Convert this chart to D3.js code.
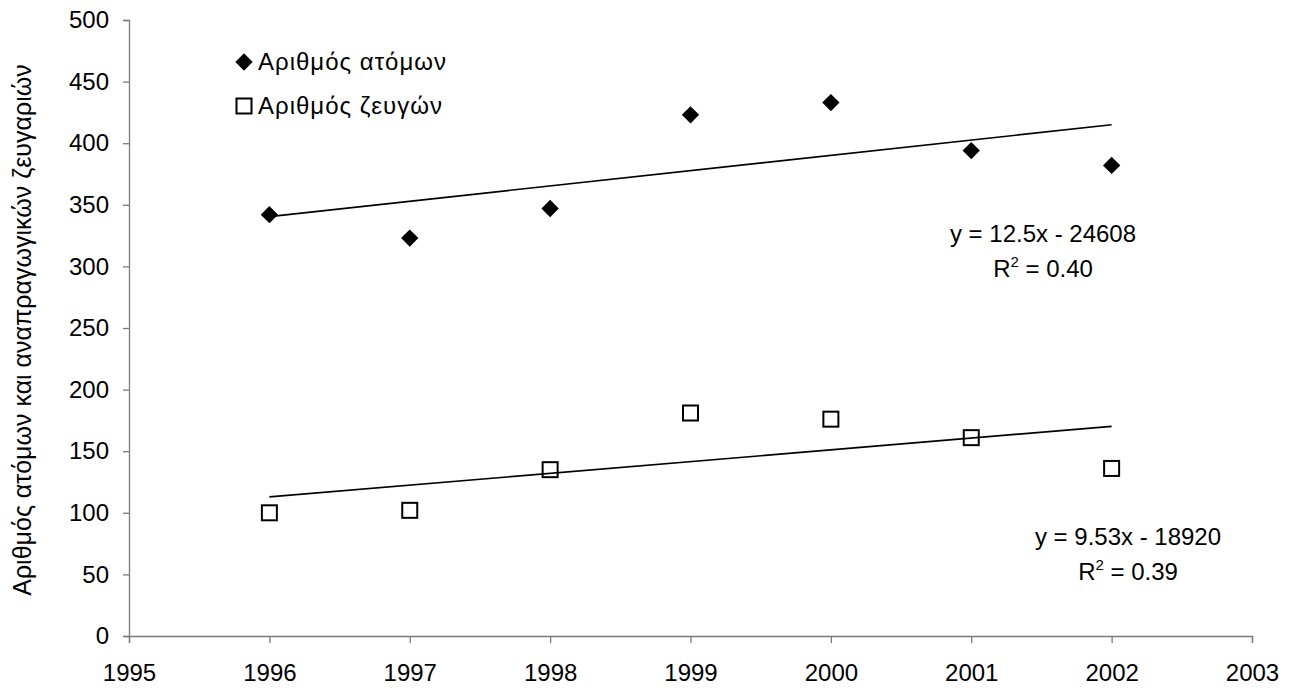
<!DOCTYPE html>
<html>
<head>
    <title>Αριθμός ατόμων και ζευγών</title>
    <meta charset="utf-8">
</head>
<body style="margin:0;background:#fff;">
<style>
    text {
        font-family: "Liberation Sans", Arial, sans-serif;
        fill: #000;
    }
</style>
<script src="https://d3js.org/d3.v7.min.js"></script>
<script>
    // Values
    const years = [1996, 1997, 1998, 1999, 2000, 2001, 2002];
    const individuals = [342, 323, 347, 423, 433, 394, 382];
    const pairs = [100, 102, 135, 181, 176, 161, 136];
    const seriesNames = ['Αριθμός ατόμων', 'Αριθμός ζευγών'];
    const trendEquations = ['y = 12.5x - 24608', 'y = 9.53x - 18920'];
    const trendR2 = ['0.40', '0.39'];
    const xTicks = [1995, 1996, 1997, 1998, 1999, 2000, 2001, 2002, 2003];
    const yTicks = [0, 50, 100, 150, 200, 250, 300, 350, 400, 450, 500];
    const yTitle = 'Αριθμός ατόμων και αναπραγωγικών ζευγαριών';

    const SIZES = {
        WIDTH: 1294,
        HEIGHT: 688,
        LEFT: 129,
        RIGHT: 1252,
        TOP: 20,
        BOTTOM: 636,
        FONT: 24
    };

    const svg = d3.select('body').append('svg')
        .attr('width', SIZES.WIDTH)
        .attr('height', SIZES.HEIGHT);

    const x = d3.scaleLinear().domain([1995, 2003]).range([SIZES.LEFT, SIZES.RIGHT]);
    const y = d3.scaleLinear().domain([0, 500]).range([SIZES.BOTTOM, SIZES.TOP]);

    // Axes
    svg.append('g')
        .attr('class', 'axis')
        .attr('transform', `translate(0,${SIZES.BOTTOM})`)
        .call(d3.axisBottom(x).tickValues(xTicks).tickFormat(d3.format('d')).tickSizeOuter(0).tickSize(7).tickPadding(21));

    svg.append('g')
        .attr('class', 'axis')
        .attr('transform', `translate(${SIZES.LEFT},0)`)
        .call(d3.axisLeft(y).tickValues(yTicks).tickSizeOuter(0).tickSize(6).tickPadding(14));

    svg.selectAll('.axis text')
        .style('font-size', SIZES.FONT + 'px')
        .style('font-family', '"Liberation Sans", Arial, sans-serif')
        .attr('fill', '#000');
    svg.selectAll('.axis path, .axis line').attr('stroke', '#7a7a7a').attr('stroke-width', 1.3);

    // Y axis title
    svg.append('text')
        .attr('transform', `translate(31,${(SIZES.TOP + SIZES.BOTTOM) / 2 + 2}) rotate(-90)`)
        .attr('text-anchor', 'middle')
        .style('font-size', '25px')
        .text(yTitle);

    // Least squares fit
    function fit(xs, ys) {
        const mx = d3.mean(xs), my = d3.mean(ys);
        const sxy = d3.sum(xs, (v, i) => (v - mx) * (ys[i] - my));
        const sxx = d3.sum(xs, v => (v - mx) ** 2);
        const slope = sxy / sxx;
        return v => my + slope * (v - mx);
    }

    const series = [
        {name: seriesNames[0], values: individuals, filled: true},
        {name: seriesNames[1], values: pairs, filled: false}
    ];

    const line = d3.line().x(d => x(d[0])).y(d => y(d[1]));

    series.forEach(s => {
        const f = fit(years, s.values);
        const ends = d3.extent(years);
        svg.append('path')
            .attr('d', line(ends.map(v => [v, f(v)])))
            .attr('fill', 'none')
            .attr('stroke', '#000')
            .attr('stroke-width', 1.6);
    });

    // Markers
    function drawMarker(sel, s) {
        if (s.filled) {
            sel.append('path')
                .attr('d', d3.symbol(d3.symbolSquare, 150)())
                .attr('transform', 'rotate(45)')
                .attr('fill', '#000');
        } else {
            sel.append('rect')
                .attr('x', -7.5).attr('y', -7.5)
                .attr('width', 15).attr('height', 15)
                .attr('fill', 'none')
                .attr('stroke', '#000')
                .attr('stroke-width', 2);
        }
    }

    series.forEach(s => {
        svg.append('g').selectAll('g')
            .data(years.map((yr, i) => [yr, s.values[i]]))
            .join('g')
            .attr('transform', d => `translate(${x(d[0])},${y(d[1])})`)
            .each(function () { drawMarker(d3.select(this), s); });
    });

    // Legend
    const legend = svg.append('g').attr('transform', 'translate(244,62)');
    series.forEach((s, i) => {
        const item = legend.append('g').attr('transform', `translate(0,${i * 44})`);
        item.append('g').call(drawMarker, s);
        item.append('text')
            .attr('x', 14)
            .attr('y', 8)
            .style('font-size', SIZES.FONT + 'px')
            .style('letter-spacing', '1px')
            .text(s.name);
    });

    // Trend equations
    const labelPos = [[1043, 242], [1128, 545]];
    trendEquations.forEach((eq, i) => {
        const g = svg.append('g').attr('transform', `translate(${labelPos[i][0]},${labelPos[i][1]})`);
        g.append('text')
            .attr('text-anchor', 'middle')
            .style('font-size', SIZES.FONT + 'px')
            .text(eq);
        const r = g.append('text')
            .attr('text-anchor', 'middle')
            .attr('y', 35)
            .style('font-size', SIZES.FONT + 'px');
        r.append('tspan').text('R');
        r.append('tspan').attr('dy', -10).style('font-size', '15px').text('2');
        r.append('tspan').attr('dy', 10).text(' = ' + trendR2[i]);
    });
</script>
</body>
</html>
